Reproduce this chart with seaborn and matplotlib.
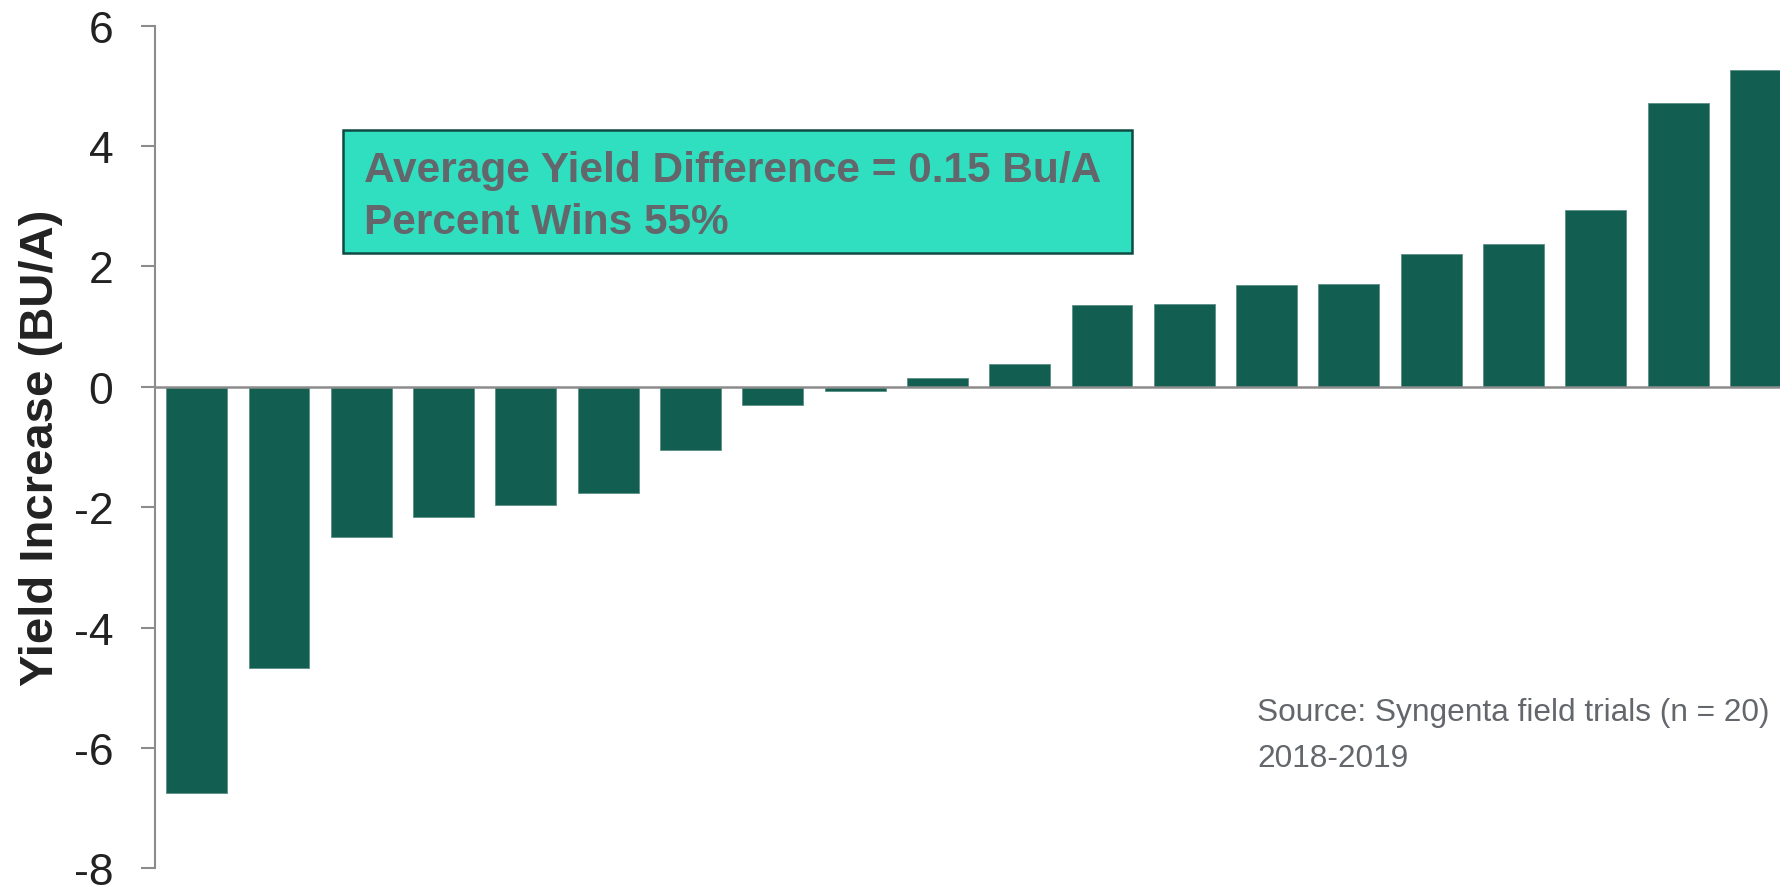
import matplotlib
matplotlib.use("Agg")
import matplotlib.pyplot as plt
from matplotlib.patches import Rectangle
import pandas as pd
import seaborn as sns

# yield difference per field trial, sorted (Bu/A)
trials = [f"Trial {i}" for i in range(1, 21)]
yield_diff = [-6.75, -4.67, -2.49, -2.17, -1.97, -1.76, -1.05, -0.30, -0.07, 0.15,
              0.38, 1.36, 1.37, 1.69, 1.70, 2.20, 2.38, 2.94, 4.72, 5.27]
y_ticks = [-8, -6, -4, -2, 0, 2, 4, 6]

summary_lines = ["Average Yield Difference = 0.15 Bu/A", "Percent Wins 55%"]
source_lines = ["Source: Syngenta field trials (n = 20)", "2018-2019"]

bar_color = "#125e51"
box_fill = "#30dfc0"
box_edge = "#0e4a42"
text_gray = "#63666a"
axis_gray = "#8c8c8c"

sns.set_theme(style="white")
plt.rcParams["font.family"] = ["Liberation Sans", "DejaVu Sans"]

W, H = 1780, 887
fig = plt.figure(figsize=(W / 100, H / 100), dpi=100)
ax = fig.add_axes([155 / W, 1 - 869.3 / H, (W - 155) / W, (869.3 - 26.7) / H])

df = pd.DataFrame({"trial": trials, "diff": yield_diff})
sns.barplot(data=df, x="trial", y="diff", color=bar_color, saturation=1,
            width=0.74, ax=ax, edgecolor="#5c8f86", linewidth=0.6)

ax.set_ylim(-8, 6)
ax.set_xlim(-0.507, 19.238)
ax.set_yticks(y_ticks)
ax.set_yticklabels([str(t) for t in y_ticks])
ax.set_xticks([])
ax.set_xlabel("")
ax.set_ylabel("Yield Increase (BU/A)", fontsize=34, fontweight="bold", color="#222222")
ax.yaxis.set_label_coords(-92 / (W - 155), 0.5)

ax.tick_params(axis="y", direction="out", length=10, width=1.5, color=axis_gray,
               pad=20, labelsize=32, labelcolor="#222222", left=True)

for side in ["top", "right"]:
    ax.spines[side].set_visible(False)
ax.spines["bottom"].set_position(("data", 0))
ax.spines["bottom"].set_color(axis_gray)
ax.spines["bottom"].set_linewidth(1.8)
ax.spines["bottom"].set_zorder(5)
ax.spines["left"].set_color(axis_gray)
ax.spines["left"].set_linewidth(1.5)

# summary box
fig.patches.append(Rectangle((343 / W, 1 - 254 / H), (1132 - 343) / W, (254 - 130.7) / H,
                             transform=fig.transFigure, facecolor=box_fill,
                             edgecolor=box_edge, linewidth=1.8, zorder=3))
for line, base in zip(summary_lines, [182.3, 234.3]):
    fig.text(364 / W, 1 - base / H, line, fontsize=30.5, fontweight="bold",
             color=text_gray, va="baseline", ha="left", zorder=4)

for line, base in zip(source_lines, [721, 767]):
    fig.text(1257 / W, 1 - base / H, line, fontsize=22.8, color=text_gray,
             va="baseline", ha="left")

fig.savefig("out.png", dpi=100)
